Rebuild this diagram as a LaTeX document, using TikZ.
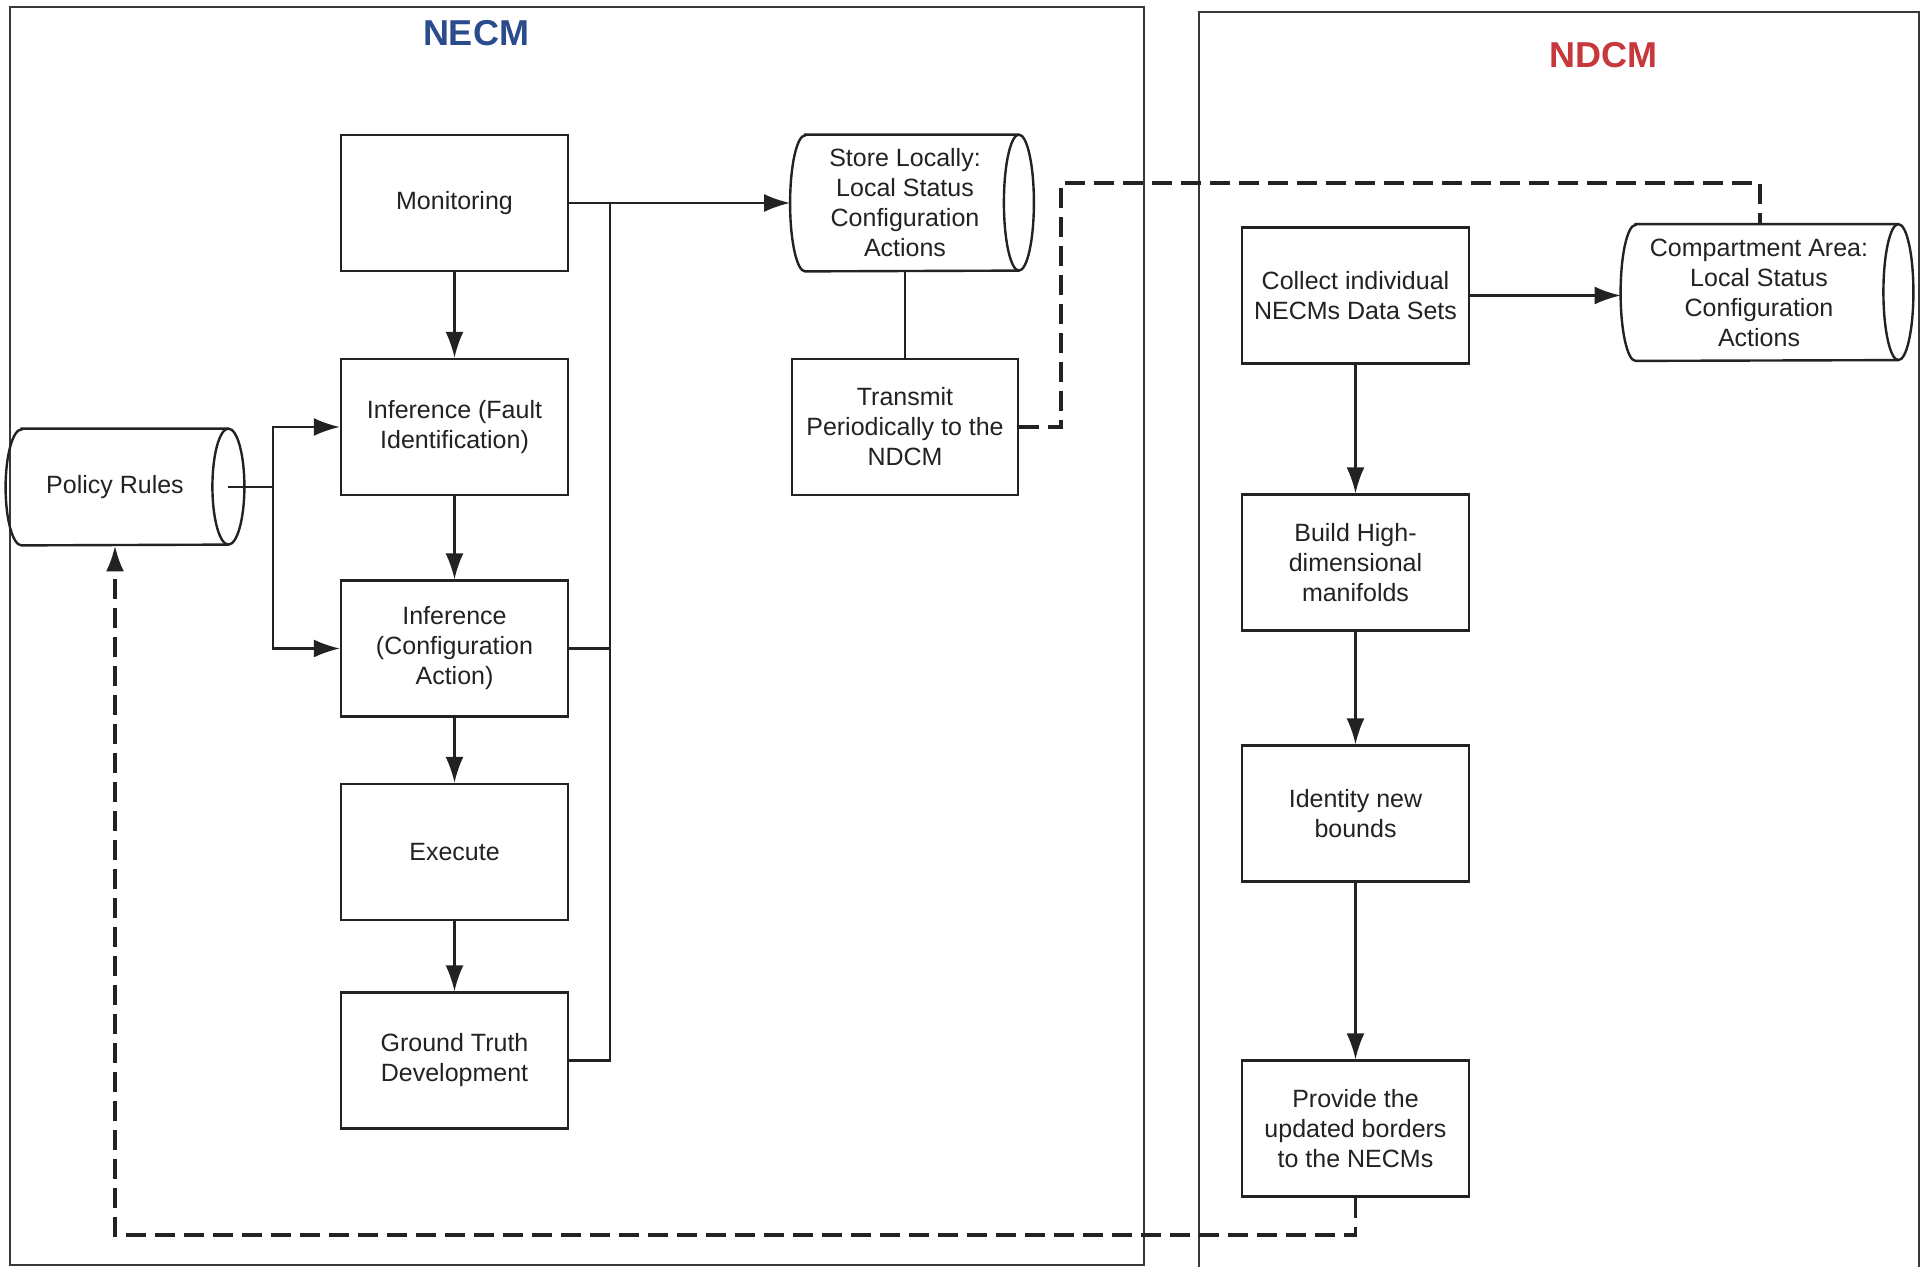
\documentclass[tikz,border=0pt]{standalone}
\usepackage{fontspec}
\setmainfont{Liberation Sans}
\usetikzlibrary{arrows.meta,calc}

\definecolor{necmblue}{HTML}{2B4C8C}
\definecolor{ndcmred}{HTML}{C8373B}
\definecolor{ink}{HTML}{222222}

% outline of a horizontal cylinder around node #1, end radius #2, half height #3,
% shifted right by #4 relative to the node's text
\newcommand\cylout[4]{%
  \draw[cylline] ($(#1.north west)+(#2+#4,0)$) -- ($(#1.north east)+(-#2+#4,0)$)
     arc[start angle=-90,end angle=90,x radius=#2,y radius=#3]
     -- ($(#1.south west)+(#2+#4,0)$)
     arc[start angle=90,end angle=270,x radius=#2,y radius=#3] -- cycle;
  \draw[cylline] ($(#1.north east)+(-#2+#4,0)$)
     arc[start angle=-90,end angle=-270,x radius=#2,y radius=#3];
}

\begin{document}
\begin{tikzpicture}[x=0.5pt,y=-0.5pt,
  every node/.style={text=ink},
  box/.style={draw=ink, line width=1.2pt, fill=white, minimum width=113.5pt,
    minimum height=68pt, align=center, inner sep=2pt,
    font=\fontsize{12.5}{15}\selectfont},
  cylbox/.style={minimum height=68pt, align=center, inner sep=2pt,
    font=\fontsize{12.5}{15}\selectfont},
  cylline/.style={draw=ink, line width=1.2pt},
  frame/.style={draw=ink!90, line width=1.3pt},
  title/.style={font=\fontsize{18}{20}\selectfont\bfseries},
  conn/.style={draw=ink, line width=1.1pt},
  arr/.style={conn, -{Latex[length=13pt,width=9pt]}},
  dashconn/.style={draw=ink, line width=1.7pt, dash pattern=on 10pt off 4.5pt},
  dasharr/.style={dashconn, -{Latex[length=13pt,width=9pt]}}
]
\useasboundingbox (0,0) rectangle (1923,1267);

% module frames
\draw[frame] (10,7) rectangle (1144,1265);
\draw[frame] (1199,12) rectangle (1919,1280);
\node[title, text=necmblue] (necmtitle) at (476,33) {NECM};
\node[title, text=ndcmred] (ndcmtitle) at (1603,55) {NDCM};

% NECM processing chain
\node[box] (mon)  at (454.5,203)  {Monitoring};
\node[box] (infF) at (454.5,427)  {Inference (Fault\\Identification)};
\node[box] (infC) at (454.5,648.5){Inference\\(Configuration\\Action)};
\node[box] (exe)  at (454.5,852)  {Execute};
\node[box] (gt)   at (454.5,1060.5){Ground Truth\\Development};

% local store and transmission
\node[cylbox, minimum width=121.5pt] (store) at (905,203) {Store Locally:\\Local Status\\Configuration\\Actions};
\cylout{store}{15}{68}{7}
\node[box, minimum width=113pt] (tx) at (905,427) {Transmit\\Periodically to the\\NDCM};

% policy rules
\node[cylbox, minimum width=119pt, minimum height=58pt] (pol) at (115,487) {Policy Rules};
\cylout{pol}{16}{58}{10}

% NDCM chain
\node[box] (col)  at (1355.5,295.5) {Collect individual\\NECMs Data Sets};
\node[cylbox, minimum width=146pt] (comp) at (1759,292.5) {Compartment Area:\\Local Status\\Configuration\\Actions};
\cylout{comp}{15}{68}{8}
\node[box] (bld)  at (1355.5,562.5) {Build High-\\dimensional\\manifolds};
\node[box] (idn)  at (1355.5,813.5) {Identity new\\bounds};
\node[box] (prv)  at (1355.5,1128.5){Provide the\\updated borders\\to the NECMs};

% attachment points on the cylinder outlines
\coordinate (storeW) at ($(store.west)+(7,0)$);
\coordinate (compW)  at ($(comp.west)+(8,0)$);
\coordinate (polEnd) at ($(pol.east)+(-6,0)$);

% junction points
\coordinate (busTop) at (610,203);
\coordinate (busBot) at (610,1060.5);
\coordinate (polJ)   at (273,487);
\coordinate (txJ)    at (1061,427);
\coordinate (txTop)  at (1061,183);
\coordinate (compJ)  at (1760,183);
\coordinate (prvJ)   at (1355.5,1235);
\coordinate (polJ2)  at (115,1235);

% solid connectors
\draw[arr] (mon.east) -- (storeW);
\draw[arr] (mon) -- (infF);
\draw[arr] (infF) -- (infC);
\draw[arr] (infC) -- (exe);
\draw[arr] (exe) -- (gt);
\draw[conn] (busTop) -- (busBot) -- (gt.east);
\draw[conn] (infC.east) -- (infC.east -| busTop);
\draw[conn] (polEnd) -- (polJ);
\draw[arr] (polJ) |- (infF.west);
\draw[arr] (polJ) |- (infC.west);
\draw[conn] (tx.north) -- (tx.north |- store.south);
\draw[arr] (col.east) -- (col.east -| compW);
\draw[arr] (col) -- (bld);
\draw[arr] (bld) -- (idn);
\draw[arr] (idn) -- (prv);

% dashed exchange between the modules
\draw[dashconn] (tx.east) -- (txJ) -- (txTop) -- (compJ) -- (compJ |- comp.north);
\draw[dasharr] (prv.south) -- (prvJ) -- (polJ2) -- (polJ2 |- pol.south);
\end{tikzpicture}
\end{document}
